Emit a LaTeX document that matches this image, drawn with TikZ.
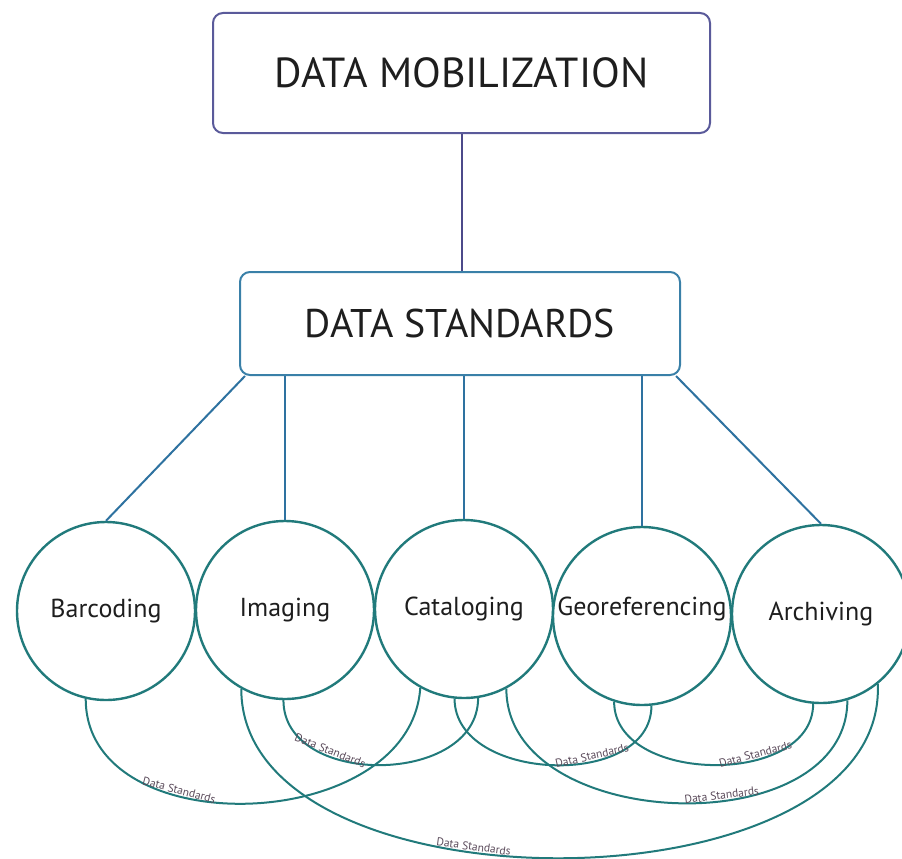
\documentclass[tikz,border=0pt]{standalone}
\usepackage{fontspec}
\setmainfont{PT Sans}
\definecolor{cPurple}{HTML}{5A5A9A}
\definecolor{cPurpleLine}{HTML}{4C4A8A}
\definecolor{cBlue}{HTML}{3A80A8}
\definecolor{cBlueLine}{HTML}{2E72A0}
\definecolor{cTeal}{HTML}{217A7B}
\definecolor{cText}{HTML}{1E1E1E}
\definecolor{cLbl}{HTML}{5A4A5A}
\begin{document}
\begin{tikzpicture}[x=1pt,y=-1pt,
  topbox/.style={draw=cPurple, line width=2pt, rounded corners=10pt, fill=white,
    minimum width=497pt, minimum height=120pt, inner sep=0pt,
    font=\fontsize{42}{42}\selectfont, text=cText},
  stdbox/.style={draw=cBlue, line width=2pt, rounded corners=10pt, fill=white,
    minimum width=440pt, minimum height=103pt, inner sep=0pt,
    font=\fontsize{40}{40}\selectfont, text=cText},
  topic/.style={circle, draw=cTeal, line width=2.4pt, fill=white,
    minimum size=178pt, inner sep=0pt,
    font=\fontsize{26}{26}\selectfont, text=cText},
  purpleline/.style={draw=cPurpleLine, line width=2pt},
  blueline/.style={draw=cBlueLine, line width=2pt},
  arcline/.style={draw=cTeal, line width=2pt},
  lbl/.style={sloped, above, inner sep=1pt, font=\fontsize{11.5}{11.5}\selectfont, text=cLbl}
]
\useasboundingbox (0,0) rectangle (902,859);

\node[topbox] (mob) at (461.5,73) {DATA MOBILIZATION};
\node[stdbox] (std) at (460,323.5) {DATA STANDARDS};

\node[topic] (bar) at (106,611) {Barcoding};
\node[topic] (img) at (285,610) {Imaging};
\node[topic] (cat) at (464,609) {Cataloging};
\node[topic, text depth=19pt] (geo) at (642,616) {Georeferencing};
\node[topic] (arc) at (821,614) {Archiving};

\draw[purpleline] (mob.south) -- (mob.south |- std.north);

\draw[blueline] ([xshift=6pt]std.south west) -- (bar.north);
\draw[blueline] (img.north |- std.south) -- (img.north);
\draw[blueline] (cat.north |- std.south) -- (cat.north);
\draw[blueline] (geo.north |- std.south) -- (geo.north);
\draw[blueline] ([xshift=-5pt]std.south east) -- (arc.north);

\draw[arcline] (bar.257) .. controls +(0,147) and +(-10,147) .. (cat.241)
  node[lbl, pos=0.35] {Data Standards};
\draw[arcline] (img.269) .. controls +(0,88) and +(0,88) .. (cat.279)
  node[lbl, pos=0.31] {Data Standards};
\draw[arcline] (cat.264) .. controls +(0,84) and +(0,84) .. (geo.276)
  node[lbl, pos=0.64] {Data Standards};
\draw[arcline] (cat.298) .. controls +(0,145) and +(0,145) .. (arc.287)
  node[lbl, pos=0.59] {Data Standards};
\draw[arcline] (geo.252) .. controls +(0,83) and +(0,83) .. (arc.265)
  node[lbl, pos=0.65] {Data Standards};
\draw[arcline] (img.241) .. controls +(0,229) and +(10,229) .. (arc.309)
  node[lbl, pos=0.405] {Data Standards};
\end{tikzpicture}
\end{document}
